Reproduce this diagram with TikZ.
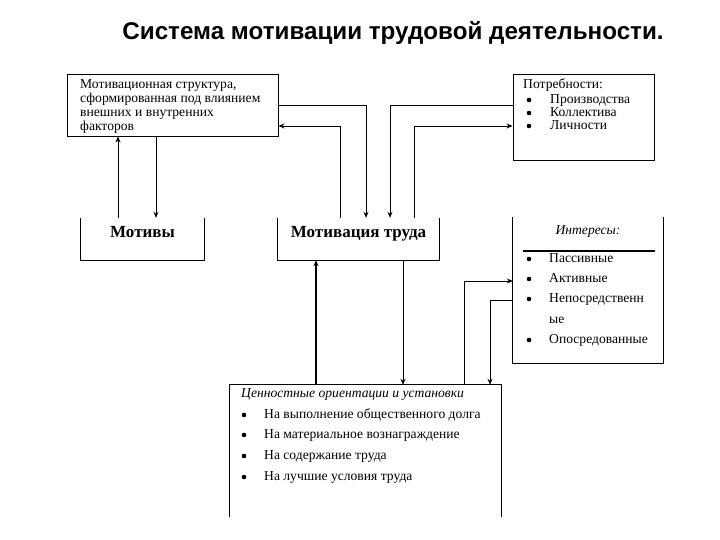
\documentclass[tikz,border=0pt]{standalone}
\usepackage{fontspec}
\setmainfont{Liberation Serif}
\newfontfamily\headfont{Liberation Sans}
\usepackage{tikz}
\usetikzlibrary{arrows.meta, positioning, calc}
\tikzset{
    frame_line/.style = {draw=black, line width=0.9pt},
    frame_box/.style = {frame_line, inner sep=0pt},
    open_box/.style = {inner sep=0pt},
    item_text/.style = {inner sep=0pt, anchor=west, text height=1.5ex,
        text depth=.25ex, font=\fontsize{13.6}{14}\selectfont},
    bullet_dot/.style = {circle, fill=black, inner sep=0pt, minimum size=4.6pt, yshift=1pt},
    big_text/.style = {text height=8pt, text depth=12pt,
        font=\fontsize{17}{19}\selectfont\bfseries},
    link/.style = {->, line width=0.9pt},
    thick_link/.style = {link, line width=1.8pt},
}

\begin{document}
\begin{tikzpicture}[x=1pt, y=-1pt, >={Stealth[length=6pt, width=5pt]}]
        \useasboundingbox (0,0) rectangle (720,540);
        \node (title) [anchor=base, font=\headfont\bfseries\fontsize{24.2}{28}\selectfont]
            at (393,40) {Система мотивации трудовой деятельности.};
        % upper boxes
        \node (struct) [frame_box, minimum width=211pt, minimum height=62pt] at (172.5,105) {};
        \node (struct_text) [inner sep=0pt, anchor=north west, align=left,
            font=\fontsize{13.6}{14}\selectfont] at (80,79)
            {Мотивационная структура,\\ сформированная под влиянием\\
             внешних и внутренних\\ факторов};
        \node (needs) [frame_box, minimum width=141pt, minimum height=86pt] at (583.5,117) {};
        \node (needs_head) [item_text] at (523,86) {Потребности:};
        \foreach \y/\lbl in {101/Производства, 114/Коллектива, 127/Личности} {
            \node (needs_dot\y) [bullet_dot] at (529,\y) {};
            \node (needs_item\y) [item_text] at (550,\y) {\lbl};
        }
        % middle boxes, open at the top
        \node (motives) [open_box, big_text, minimum width=123pt, minimum height=42pt]
            at (142.5,239) {Мотивы};
        \node (labour) [open_box, big_text, minimum width=161pt, minimum height=42pt]
            at (358.5,239) {Мотивация труда};
        \node (interests) [open_box, minimum width=150pt, minimum height=146pt] at (588,290) {};
        \foreach \n in {motives, labour, interests}
            \draw [frame_line] (\n.north west) -- (\n.south west)
                -- (\n.south east) -- (\n.north east);
        \node (interests_head) [item_text, anchor=center, font=\fontsize{13.6}{14}\selectfont\itshape]
            at (588,232) {Интересы:};
        \draw [line width=2pt] (523,251) -- (655,251);
        \foreach \y/\lbl in {260/Пассивные, 280/Активные, 300/Непосредственн, 341/Опосредованные} {
            \node (int_dot\y) [bullet_dot] at (529,\y) {};
            \node (int_item\y) [item_text] at (549,\y) {\lbl};
        }
        \node (int_item321) [item_text] at (549,321) {ые};
        % lower box, open at the bottom
        \node (values) [open_box, minimum width=271pt, minimum height=132pt] at (365.5,451) {};
        \draw [frame_line] (values.south west) -- (values.north west)
            -- (values.north east) -- (values.south east);
        \node (values_head) [item_text, font=\fontsize{13.6}{14}\selectfont\itshape]
            at (241,395) {Ценностные ориентации и установки};
        \foreach \y/\lbl in {416/На выполнение общественного долга,
                             436/На материальное вознаграждение,
                             457/На содержание труда,
                             478/На лучшие условия труда} {
            \node (val_dot\y) [bullet_dot] at (244,\y) {};
            \node (val_item\y) [item_text] at (264,\y) {\lbl};
        }
        % connectors
        \draw [link] (struct.east) -| (labour.north -| 366,0);
        \draw [link] (labour.north -| 340,0) |- (struct.east |- 0,126);
        \draw [link] (needs.west |- 0,105) -| (labour.north -| 390,0);
        \draw [link] (labour.north -| 414,0) |- (needs.west |- 0,126);
        \draw [link] (motives.north -| 118,0) -- (struct.south -| 118,0);
        \draw [link] (struct.south -| 156,0) -- (motives.north -| 156,0);
        \draw [thick_link] (values.north -| 316,0) -- (labour.south -| 316,0);
        \draw [link] (labour.south -| 403,0) -- (values.north -| 403,0);
        \draw [link] (values.north -| 464,0) |- (interests.west |- 0,281);
        \draw [link] (interests.west |- 0,300) -| (values.north -| 490,0);
\end{tikzpicture}
\end{document}
